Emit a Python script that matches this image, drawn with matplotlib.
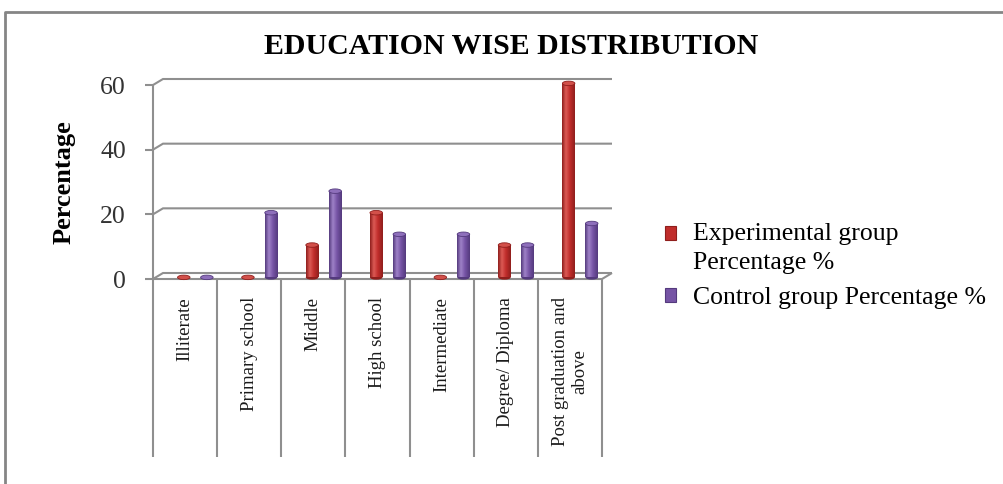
import numpy as np
import matplotlib
matplotlib.use("Agg")
import matplotlib.pyplot as plt
from matplotlib.patches import Ellipse, Patch
from matplotlib.lines import Line2D
from matplotlib.colors import LinearSegmentedColormap
from matplotlib.legend_handler import HandlerPatch

# ---- data -------------------------------------------------------------
categories = ["Illiterate", "Primary school", "Middle", "High school",
              "Intermediate", "Degree/ Diploma", "Post graduation and\nabove"]
experimental_pct = [0, 0, 10, 20, 0, 10, 60]
control_pct = [0, 20, 26.67, 13.33, 13.33, 10, 16.67]
series_names = ["Experimental group\nPercentage %", "Control group Percentage %"]
y_ticks = [0, 20, 40, 60]
title = "EDUCATION WISE DISTRIBUTION"
y_label = "Percentage"

# ---- styling ----------------------------------------------------------
plt.rcParams["font.family"] = ["Liberation Serif", "DejaVu Serif"]
W, H, DPI = 1004, 484, 100
GRID_C = "#8f8f8f"
LW = 1.5

# cylinder shading: (dark edge, body, highlight, cap)
red_shade = ["#8f1e1c", "#c02d2b", "#dc5a55", "#d2504a"]
purple_shade = ["#543a7d", "#7654a5", "#9f82c8", "#8e6fbb"]

fig = plt.figure(figsize=(W / DPI, H / DPI), dpi=DPI)

# plot area (front plane) in pixels
left_px, right_px, top_px, floor_px = 153, 602, 85, 279
ax = fig.add_axes([left_px / W, 1 - floor_px / H,
                   (right_px - left_px) / W, (floor_px - top_px) / H])
n = len(categories)
ymax = y_ticks[-1]
ax.patch.set_visible(False)
for s in ax.spines.values():
    s.set_visible(False)

px_per_unit = (floor_px - top_px) / ymax
px_per_cat = (right_px - left_px) / n
depth_dx = 10 / px_per_cat          # horizontal depth of the 3-D box
depth_dy = 6 / px_per_unit          # vertical depth of the 3-D box
label_floor = -(457 - floor_px) / px_per_unit

line_kw = dict(color=GRID_C, lw=LW, clip_on=False, zorder=1,
               solid_capstyle="butt", solid_joinstyle="miter")

# back-wall gridlines with their side-wall slant
for t in y_ticks:
    ax.plot([0, depth_dx, n + depth_dx], [t, t + depth_dy, t + depth_dy], **line_kw)
# floor front edge and right side
ax.plot([0, n, n + depth_dx], [0, 0, depth_dy], **line_kw)
# value axis, running down through the label table
ax.plot([0, 0], [label_floor, ymax], **line_kw)
# category separators of the label table
for i in range(1, n + 1):
    ax.plot([i, i], [label_floor, 0], **line_kw)

# ---- cylinders --------------------------------------------------------
bar_w = 0.195
offsets = [0.48, 0.84]
base = 0.5
cap_h = 4.5 / px_per_unit
x = np.arange(n)

for vals, off, shade in zip([experimental_pct, control_pct], offsets,
                            [red_shade, purple_shade]):
    dark, body, light, cap = shade
    cmap = LinearSegmentedColormap.from_list(
        "cyl", [(0, dark), (0.3, light), (0.62, body), (1, dark)])
    bars = ax.bar(x + off, vals, width=bar_w, bottom=base, color=body,
                  zorder=3, clip_on=False, linewidth=0)
    for rect in bars:
        x0, y0 = rect.get_x(), rect.get_y()
        w, h = rect.get_width(), rect.get_height()
        if h > 0:
            im = ax.imshow(np.linspace(0, 1, 64)[None, :], cmap=cmap,
                           extent=[x0, x0 + w, y0, y0 + h], aspect="auto",
                           interpolation="bilinear", zorder=3.5)
            im.set_clip_path(rect)
            ax.add_patch(Ellipse((x0 + w / 2, y0), w, cap_h, facecolor=dark,
                                 edgecolor="none", zorder=2.9, clip_on=False))
        ax.add_patch(Ellipse((x0 + w / 2, y0 + h), w, cap_h, facecolor=cap,
                             edgecolor=dark, lw=0.6, zorder=4, clip_on=False))

ax.set_xlim(0, n)
ax.set_ylim(0, ymax)

# ---- ticks and labels -------------------------------------------------
ax.set_yticks(y_ticks)
ax.set_yticklabels([str(t) for t in y_ticks])
ax.tick_params(axis="y", length=8 * 0.72, width=LW, color=GRID_C,
               pad=19 * 0.72, labelsize=18.5, labelcolor="#333333")
ax.set_xticks(x + 0.5)
ax.set_xticklabels(categories, rotation=90, fontsize=13.5,
                   multialignment="center", color="#1a1a1a")
ax.tick_params(axis="x", length=0, pad=(297 - floor_px) * 0.72)

ax.set_ylabel(y_label, fontsize=19, fontweight="bold", va="center")
ax.yaxis.set_label_coords((64 - left_px) / (right_px - left_px), 0.5)

fig.text(511 / W, 1 - 47 / H, title, ha="center", va="center",
         fontsize=21.5, fontweight="bold")


# ---- legend -----------------------------------------------------------
class FirstLineKey(HandlerPatch):
    """Legend key placed beside the first line of a multi-line label."""

    def __init__(self, extra_lines, line_pt, **kw):
        super().__init__(**kw)
        self.shift = extra_lines * line_pt / 2

    def create_artists(self, legend, orig_handle, xdescent, ydescent,
                       width, height, fontsize, trans):
        arts = super().create_artists(legend, orig_handle, xdescent, ydescent,
                                      width, height, fontsize, trans)
        for a in arts:
            a.set_y(a.get_y() + self.shift)
        return arts


LEG_FS = 18.5
LEG_LS = 1.4
line_pt = 29 * 0.72
handles = [Patch(facecolor=red_shade[1], edgecolor=red_shade[0], lw=0.8),
           Patch(facecolor=purple_shade[1], edgecolor=purple_shade[0], lw=0.8)]
handler_map = {h: FirstLineKey(name.count("\n"), line_pt)
               for h, name in zip(handles, series_names)}
leg = fig.legend(handles, series_names, loc="upper left",
                 bbox_to_anchor=(665 / W, 1 - 223 / H), frameon=False,
                 fontsize=LEG_FS, handlelength=0.44, handleheight=0.44,
                 handletextpad=0.66, labelspacing=0.52, borderpad=0,
                 borderaxespad=0, handler_map=handler_map)
for t in leg.get_texts():
    t.set_linespacing(LEG_LS)

# outer chart border
fig.add_artist(Line2D([5 / W, 5 / W, 1], [0, 1 - 12 / H, 1 - 12 / H],
                      transform=fig.transFigure, color="#858585", lw=2))

fig.savefig("out.png", dpi=DPI)
